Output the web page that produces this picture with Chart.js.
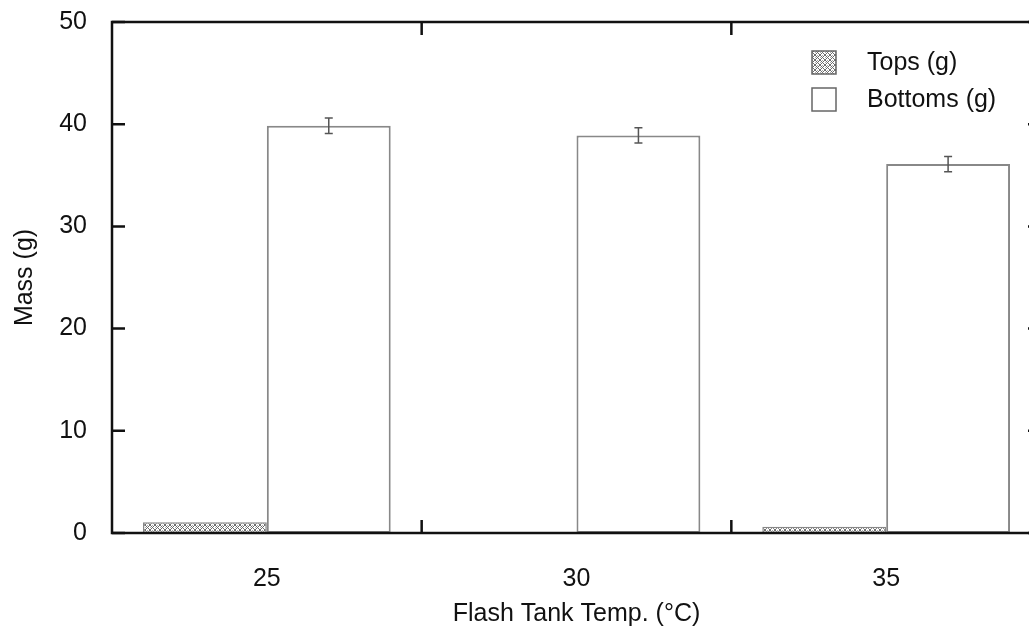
<!DOCTYPE html>
<html>
<head>
<meta charset="utf-8">
<script src="https://cdn.jsdelivr.net/npm/chart.js@4/dist/chart.umd.min.js"></script>
<style>
    html, body { margin: 0; padding: 0; background: #fff; overflow: hidden; }
    #wrap { width: 1060px; height: 629px; }
</style>
</head>
<body>
<div id="wrap"><canvas id="massChart" width="1060" height="629"></canvas></div>
<script>
// data
const categories = ['25', '30', '35'];
const topsMass = [1.05, 0, 0.6];
const bottomsMass = [39.85, 38.9, 36.1];
const bottomsErr = [0.75, 0.75, 0.75];
const yTickValues = [0, 10, 20, 30, 40, 50];

const FONT = 'Arial, "Liberation Sans", sans-serif';

// crosshatch fill used for the "Tops" bars
function makeHatch(ctx) {
    const c = document.createElement('canvas');
    c.width = 5; c.height = 5;
    const g = c.getContext('2d');
    g.fillStyle = '#ffffff';
    g.fillRect(0, 0, 5, 5);
    g.fillStyle = '#6e6e6e';
    for (let i = 0; i < 5; i++) {
        g.fillRect(i, i, 1, 1);
        g.fillRect(i, 4 - i, 1, 1);
    }
    g.fillStyle = '#a8a8a8';
    g.fillRect(2, 0, 1, 1);
    g.fillRect(0, 2, 1, 1);
    return ctx.createPattern(c, 'repeat');
}

// frame round the plot with ticks pointing inward
const framePlugin = {
    id: 'frame',
    afterDraw(chart) {
        const { ctx, chartArea: a, scales } = chart;
        const y = scales.y, x = scales.x;
        const tick = 13;
        ctx.save();
        ctx.strokeStyle = '#111';
        ctx.lineWidth = 2.5;
        ctx.strokeRect(a.left, a.top, a.right - a.left, a.bottom - a.top);
        ctx.beginPath();
        yTickValues.forEach(v => {
            const py = y.getPixelForValue(v);
            ctx.moveTo(a.left, py); ctx.lineTo(a.left + tick, py);
            ctx.moveTo(a.right, py); ctx.lineTo(a.right - tick, py);
        });
        for (let i = 0; i < categories.length - 1; i++) {
            const px = (x.getPixelForValue(i) + x.getPixelForValue(i + 1)) / 2;
            ctx.moveTo(px, a.bottom); ctx.lineTo(px, a.bottom - tick);
            ctx.moveTo(px, a.top); ctx.lineTo(px, a.top + tick);
        }
        ctx.stroke();
        ctx.restore();
    }
};

// error bars on the "Bottoms" series
const errorBarPlugin = {
    id: 'errorBars',
    afterDatasetsDraw(chart) {
        const { ctx, scales } = chart;
        const meta = chart.getDatasetMeta(1);
        ctx.save();
        ctx.strokeStyle = '#555';
        ctx.lineWidth = 1.5;
        meta.data.forEach((bar, i) => {
            const hi = scales.y.getPixelForValue(bottomsMass[i] + bottomsErr[i]);
            const lo = scales.y.getPixelForValue(bottomsMass[i] - bottomsErr[i]);
            ctx.beginPath();
            ctx.moveTo(bar.x, hi); ctx.lineTo(bar.x, lo);
            ctx.moveTo(bar.x - 4, hi); ctx.lineTo(bar.x + 4, hi);
            ctx.moveTo(bar.x - 4, lo); ctx.lineTo(bar.x + 4, lo);
            ctx.stroke();
        });
        ctx.restore();
    }
};

// legend in the upper right corner of the plot
const legendPlugin = {
    id: 'boxLegend',
    afterDraw(chart) {
        const { ctx } = chart;
        ctx.save();
        ctx.font = '25px ' + FONT;
        ctx.textBaseline = 'middle';
        chart.data.datasets.forEach((ds, i) => {
            const top = 51 + i * 37;
            ctx.fillStyle = ds.backgroundColor;
            ctx.fillRect(812, top, 24, 23);
            ctx.strokeStyle = '#666';
            ctx.lineWidth = 1.5;
            ctx.strokeRect(812, top, 24, 23);
            ctx.fillStyle = '#111';
            ctx.fillText(ds.label, 867, top + 12);
        });
        ctx.restore();
    }
};

const canvas = document.getElementById('massChart');
const ctx = canvas.getContext('2d');
const hatch = makeHatch(ctx);

new Chart(ctx, {
    type: 'bar',
    data: {
        labels: categories,
        datasets: [{
            label: 'Tops (g)',
            data: topsMass,
            backgroundColor: hatch,
            borderColor: '#888',
            borderWidth: 1.5,
            borderSkipped: false
        }, {
            label: 'Bottoms (g)',
            data: bottomsMass,
            backgroundColor: '#ffffff',
            borderColor: '#888',
            borderWidth: 2,
            borderSkipped: false
        }]
    },
    options: {
        responsive: false,
        animation: false,
        layout: { padding: { top: 22, right: 19, left: 0, bottom: 0 } },
        datasets: {
            bar: { categoryPercentage: 0.8, barPercentage: 1.0 }
        },
        plugins: {
            legend: { display: false },
            tooltip: { enabled: false }
        },
        scales: {
            x: {
                offset: true,
                grid: { display: false, drawTicks: false },
                border: { display: false },
                ticks: { color: '#111', font: { family: FONT, size: 25 }, padding: 31 },
                title: {
                    display: true,
                    text: 'Flash Tank Temp. (°C)',
                    color: '#111',
                    font: { family: FONT, size: 25 },
                    padding: { top: 0, bottom: 0 }
                },
                afterFit(scale) {
                    scale.height = 96;
                    scale.paddingLeft = 0;
                    scale.paddingRight = 0;
                }
            },
            y: {
                min: 0,
                max: 50,
                afterBuildTicks(scale) { scale.ticks = yTickValues.map(v => ({ value: v })); },
                grid: { display: false, drawTicks: false },
                border: { display: false },
                ticks: { color: '#111', font: { family: FONT, size: 25 }, padding: 25 },
                title: {
                    display: true,
                    text: 'Mass (g)',
                    color: '#111',
                    font: { family: FONT, size: 25 },
                    padding: { top: 10, bottom: 0 }
                },
                afterFit(scale) {
                    scale.width = 112;
                    scale.paddingTop = 0;
                    scale.paddingBottom = 0;
                }
            }
        }
    },
    plugins: [errorBarPlugin, framePlugin, legendPlugin]
});
</script>
</body>
</html>
